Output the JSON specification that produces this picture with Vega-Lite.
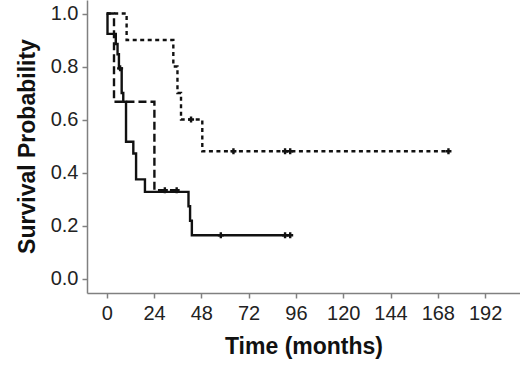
{
  "$schema": "https://vega.github.io/schema/vega-lite/v6.json",
  "width": 433,
  "height": 293,
  "autosize": {"type": "none"},
  "padding": {"left": 87, "top": 0, "right": 0, "bottom": 96},
  "background": "white",
  "config": {
    "view": {"stroke": null},
    "font": "Liberation Sans",
    "axis": {
      "grid": false,
      "domainColor": "#808080",
      "domainWidth": 1.5,
      "tickColor": "#808080",
      "tickWidth": 1.5,
      "tickSize": 5,
      "labelColor": "#222222",
      "labelFont": "Liberation Sans",
      "labelFontSize": 20,
      "titleFont": "Liberation Sans",
      "titleFontSize": 23,
      "titleFontWeight": "bold",
      "titleColor": "#111111"
    }
  },
  "datasets": {
    "curves": [
      {"group": "A", "t": 0, "s": 1},
      {"group": "A", "t": 0.4, "s": 0.923},
      {"group": "A", "t": 4.6, "s": 0.885},
      {"group": "A", "t": 5.5, "s": 0.846},
      {"group": "A", "t": 6.2, "s": 0.793},
      {"group": "A", "t": 7.6, "s": 0.70},
      {"group": "A", "t": 8.4, "s": 0.667},
      {"group": "A", "t": 9.8, "s": 0.516},
      {"group": "A", "t": 13.5, "s": 0.472},
      {"group": "A", "t": 14.9, "s": 0.374},
      {"group": "A", "t": 19.4, "s": 0.327},
      {"group": "A", "t": 41.5, "s": 0.2725},
      {"group": "A", "t": 42.3, "s": 0.218},
      {"group": "A", "t": 43.2, "s": 0.1635},
      {"group": "A", "t": 93.1, "s": 0.1635},
      {"group": "B", "t": 0, "s": 1},
      {"group": "B", "t": 3.7, "s": 0.667},
      {"group": "B", "t": 24.2, "s": 0.333},
      {"group": "B", "t": 35.5, "s": 0.333},
      {"group": "C", "t": 0, "s": 1},
      {"group": "C", "t": 10.1, "s": 0.9},
      {"group": "C", "t": 33.8, "s": 0.8},
      {"group": "C", "t": 35.9, "s": 0.7},
      {"group": "C", "t": 37.7, "s": 0.6},
      {"group": "C", "t": 48.5, "s": 0.48},
      {"group": "C", "t": 173.4, "s": 0.48}
    ],
    "censors": [
      {"group": "A", "t": 6.8, "s": 0.793},
      {"group": "A", "t": 57.9, "s": 0.1635},
      {"group": "A", "t": 90.5, "s": 0.1635},
      {"group": "A", "t": 93.1, "s": 0.1635},
      {"group": "B", "t": 29.5, "s": 0.333},
      {"group": "B", "t": 35.5, "s": 0.333},
      {"group": "C", "t": 42.8, "s": 0.6},
      {"group": "C", "t": 64.3, "s": 0.48},
      {"group": "C", "t": 90.5, "s": 0.48},
      {"group": "C", "t": 93.1, "s": 0.48},
      {"group": "C", "t": 173.4, "s": 0.48}
    ]
  },
  "layer": [
    {
      "data": {"name": "curves"},
      "mark": {"type": "line", "interpolate": "step-after", "color": "#111111", "strokeWidth": 2.4},
      "encoding": {
        "x": {"field": "t", "type": "quantitative", "scale": {"domain": [-10, 209.7], "nice": false, "zero": false},
              "axis": {"values": [0, 24, 48, 72, 96, 120, 144, 168, 192], "title": "Time (months)", "labelPadding": 5, "titlePadding": 12}},
        "y": {"field": "s", "type": "quantitative", "scale": {"domain": [-0.0547, 1.051], "nice": false, "zero": false},
              "axis": {"values": [0, 0.2, 0.4, 0.6, 0.8, 1.0], "format": ".1f", "title": "Survival Probability", "labelPadding": 4, "titleX": -60, "titleY": 146, "titleAngle": 270, "titleAlign": "center", "titleBaseline": "middle"}},
        "detail": {"field": "group"},
        "strokeDash": {"field": "group", "type": "nominal", "legend": null,
                       "scale": {"domain": ["A", "B", "C"], "range": [[1, 0], [8, 4], [4, 3.5]]}}
      }
    },
    {
      "data": {"name": "censors"},
      "mark": {"type": "point", "shape": "cross", "filled": true, "color": "#111111", "size": 36, "opacity": 1},
      "encoding": {
        "x": {"field": "t", "type": "quantitative"},
        "y": {"field": "s", "type": "quantitative"}
      }
    }
  ]
}
